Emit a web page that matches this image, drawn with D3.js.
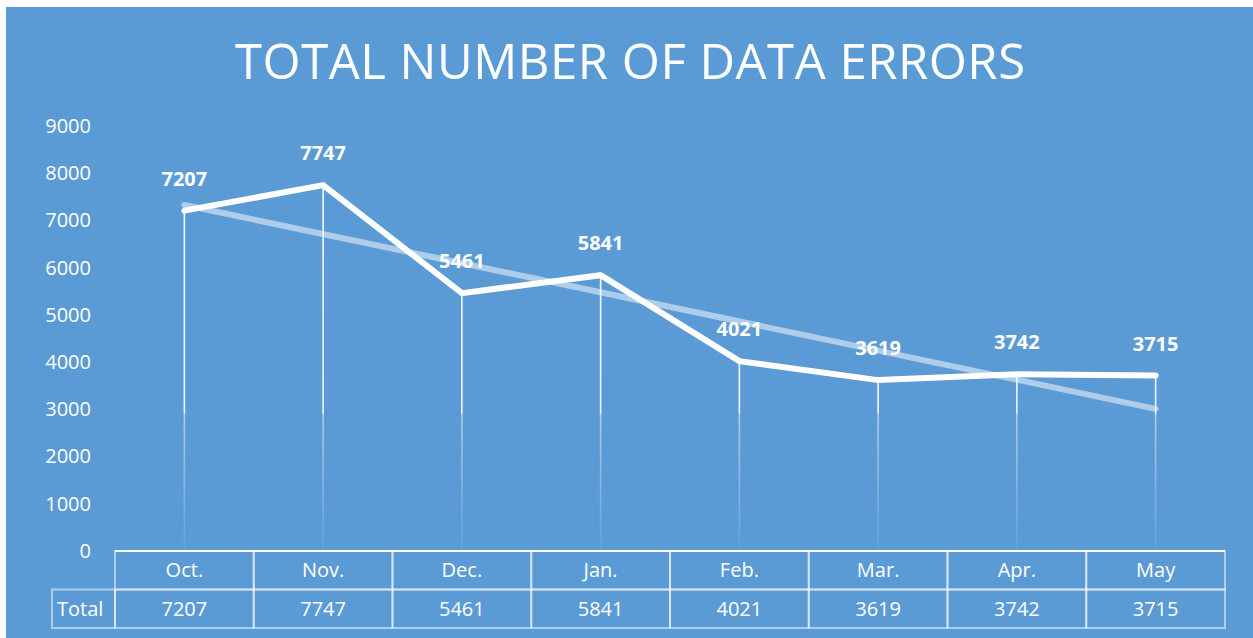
<!DOCTYPE html>
<html lang="en">
<head>
    <meta charset="UTF-8">
    <title>Total number of data errors</title>
    <script src="https://d3js.org/d3.v7.min.js"></script>
    <style>
        body { margin: 0; background: #fff; }
        text { font-family: 'Open Sans', sans-serif; fill: #fff; }
    </style>
</head>
<body>
    <div class="canvas"></div>
    <script>
      const months = ['Oct.', 'Nov.', 'Dec.', 'Jan.', 'Feb.', 'Mar.', 'Apr.', 'May'];
      const totals = [7207, 7747, 5461, 5841, 4021, 3619, 3742, 3715];
      const yTicks = [0, 1000, 2000, 3000, 4000, 5000, 6000, 7000, 8000, 9000];
      const rowLabel = 'Total';
      const title = 'TOTAL NUMBER OF DATA ERRORS';

      const width = 1253;
      const height = 638;
      const [mt, mb, ml, mr] = [126, 87, 115, 28];

      const svg = d3.select('.canvas')
                      .append('svg')
                      .attr('width', width)
                      .attr('height', height)
                      .style('display', 'block');

      // blue plate
      svg.append('rect')
          .attr('x', 6).attr('y', 7)
          .attr('width', width - 6).attr('height', height - 7)
          .attr('fill', '#5b9bd5');

      const x = d3.scaleBand()
                    .domain(months)
                    .range([ml, width - mr]);
      const y = d3.scaleLinear()
                    .domain([0, 9000])
                    .range([height - mb, mt]);

      const cx = m => x(m) + x.bandwidth() / 2;
      const data = months.map((m, i) => ({ m, v: totals[i], i }));

      // drop lines fade out toward the axis
      const defs = svg.append('defs');
      const grad = defs.append('linearGradient')
          .attr('id', 'drop')
          .attr('gradientUnits', 'userSpaceOnUse')
          .attr('x1', 0).attr('x2', 0)
          .attr('y1', y(9000)).attr('y2', y(0));
      [[0, 0.95], [0.675, 0.9], [0.68, 0.5], [1, 0.05]].forEach(([o, a]) => {
        grad.append('stop').attr('offset', o).attr('stop-color', '#fff').attr('stop-opacity', a);
      });

      svg.append('text')
          .attr('x', 630).attr('y', 79)
          .attr('text-anchor', 'middle')
          .attr('textLength', 790)
          .style('font-size', '49px')
          .style('font-weight', 400)
          .text(title);

      // y axis labels (no axis line)
      const yAxis = d3.axisLeft(y).tickValues(yTicks).tickSize(0).tickPadding(0).tickFormat(d3.format('d'));
      const yAxisG = svg.append('g')
          .attr('transform', `translate(91, 0)`)
          .call(yAxis);
      yAxisG.select('.domain').remove();
      yAxisG.selectAll('text')
          .style('font-size', '20px')
          .style('font-family', "'Open Sans', sans-serif")
          .attr('fill', '#fff');

      svg.append('g').selectAll('line')
          .data(data)
          .enter()
          .append('line')
          .attr('x1', d => cx(d.m)).attr('x2', d => cx(d.m))
          .attr('y1', d => y(d.v)).attr('y2', y(0))
          .attr('stroke', 'url(#drop)')
          .attr('stroke-width', 1.6);

      // linear trendline (least squares over the series)
      const n = totals.length;
      const mx = d3.mean(d3.range(n));
      const my = d3.mean(totals);
      const slope = d3.sum(totals, (v, i) => (i - mx) * (v - my)) / d3.sum(d3.range(n), i => (i - mx) ** 2);
      const trend = i => my + slope * (i - mx);

      svg.append('line')
          .attr('x1', cx(months[0])).attr('y1', y(trend(0)))
          .attr('x2', cx(months[n - 1])).attr('y2', y(trend(n - 1)))
          .attr('stroke', '#fff')
          .attr('stroke-opacity', 0.5)
          .attr('stroke-width', 6)
          .attr('stroke-linecap', 'round');

      const line = d3.line()
                      .x(d => cx(d.m))
                      .y(d => y(d.v));

      svg.append('path')
          .attr('d', line(data))
          .attr('fill', 'none')
          .attr('stroke', '#fff')
          .attr('stroke-width', 6)
          .attr('stroke-linecap', 'round')
          .attr('stroke-linejoin', 'miter');

      svg.append('g').selectAll('text')
          .data(data)
          .enter()
          .append('text')
          .attr('x', d => cx(d.m))
          .attr('y', d => y(d.v) - 25)
          .attr('text-anchor', 'middle')
          .style('font-size', '20px')
          .style('font-weight', 700)
          .text(d => d.v);

      // data table under the plot
      const tableTop = y(0);
      const rowH = 38.5;
      const border = 'rgba(255,255,255,0.5)';
      const table = svg.append('g');

      table.selectAll('rect.head')
          .data(data)
          .enter()
          .append('rect')
          .attr('x', d => x(d.m)).attr('y', tableTop)
          .attr('width', x.bandwidth()).attr('height', rowH)
          .attr('fill', 'none').attr('stroke', border).attr('stroke-width', 2);
      table.selectAll('rect.val')
          .data(data)
          .enter()
          .append('rect')
          .attr('x', d => x(d.m)).attr('y', tableTop + rowH)
          .attr('width', x.bandwidth()).attr('height', rowH)
          .attr('fill', 'none').attr('stroke', border).attr('stroke-width', 2);
      table.append('rect')
          .attr('x', 52).attr('y', tableTop + rowH)
          .attr('width', ml - 52).attr('height', rowH)
          .attr('fill', 'none').attr('stroke', border).attr('stroke-width', 2);

      // axis line
      table.append('line')
          .attr('x1', ml).attr('x2', width - mr)
          .attr('y1', tableTop).attr('y2', tableTop)
          .attr('stroke', '#fff').attr('stroke-width', 2);

      table.selectAll('text.m')
          .data(data)
          .enter()
          .append('text')
          .attr('x', d => cx(d.m))
          .attr('y', tableTop + rowH / 2)
          .attr('dy', '0.35em')
          .attr('text-anchor', 'middle')
          .style('font-size', '20px')
          .text(d => d.m);
      table.selectAll('text.v')
          .data(data)
          .enter()
          .append('text')
          .attr('x', d => cx(d.m))
          .attr('y', tableTop + rowH * 1.5)
          .attr('dy', '0.35em')
          .attr('text-anchor', 'middle')
          .style('font-size', '20px')
          .text(d => d.v);
      table.append('text')
          .attr('x', 57)
          .attr('y', tableTop + rowH * 1.5)
          .attr('dy', '0.35em')
          .style('font-size', '20px')
          .text(rowLabel);
    </script>
</body>
</html>
